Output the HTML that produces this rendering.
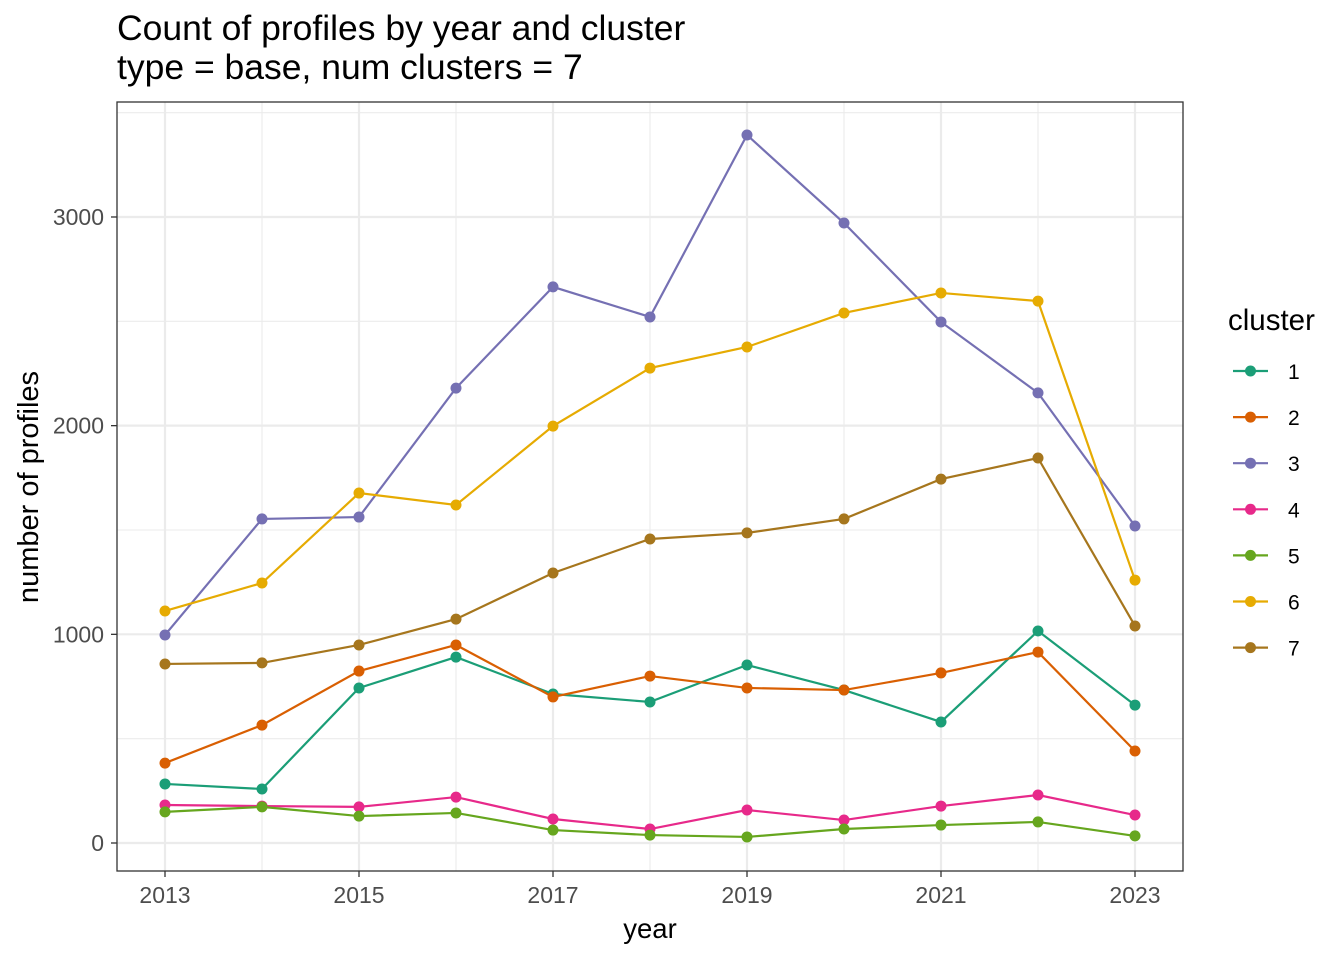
<!DOCTYPE html>
<html><head><meta charset="utf-8"><style>
body{margin:0;background:#fff;font-family:"Liberation Sans",sans-serif;}
</style></head><body>
<svg id="chart" width="1344" height="960" xmlns="http://www.w3.org/2000/svg">
<text x="117" y="40" font-size="35.5" fill="#000">Count of profiles by year and cluster</text>
<text x="117" y="79" font-size="35.5" fill="#000">type = base, num clusters = 7</text>
<g id="grid"></g>
<g id="series"></g>
<rect x="117" y="102" width="1066" height="769" fill="none" stroke="#333" stroke-width="1.3"/>
<g id="axes"></g>
<text x="650" y="938" font-size="27.5" text-anchor="middle" fill="#000">year</text>
<text transform="translate(38,487) rotate(-90)" font-size="29" text-anchor="middle" fill="#000">number of profiles</text>
<g id="legend"></g>
</svg>
<script>
const years=[2013,2014,2015,2016,2017,2018,2019,2020,2021,2022,2023];
const clusters=['1','2','3','4','5','6','7'];
const colors=['#1B9E77','#D95F02','#7570B3','#E7298A','#66A61E','#E6AB02','#A6761D'];
const c1=[283,259,743,891,714,676,853,733,580,1016,661];
const c2=[383,565,824,949,700,800,743,733,815,915,441];
const c3=[997,1553,1562,2180,2665,2521,3393,2971,2497,2157,1519];
const c4=[182,177,173,220,115,67,158,110,177,230,134];
const c5=[149,173,129,144,62,38,29,67,86,101,34];
const c6=[1112,1246,1677,1620,1998,2276,2377,2540,2636,2597,1260];
const c7=[858,863,949,1073,1294,1457,1486,1553,1744,1845,1040];
const series=[c1,c2,c3,c4,c5,c6,c7];
const yTicks=[0,1000,2000,3000];
const xTicks=[2013,2015,2017,2019,2021,2023];
const NS='http://www.w3.org/2000/svg';
const X=v=>165+(v-2013)*97;
const Y=v=>843-v*0.20867;
function mk(tag,attrs,parent){const e=document.createElementNS(NS,tag);for(const k in attrs)e.setAttribute(k,attrs[k]);parent.appendChild(e);return e;}
const grid=document.getElementById('grid');
mk('rect',{x:117,y:102,width:1066,height:769,fill:'#fff'},grid);
for(let v=-500;v<=3500;v+=500){const y=Y(v);if(y<102||y>871)continue;
 const l=mk('line',{x1:117,x2:1183,y1:y,y2:y,stroke:'#ebebeb','stroke-width':v%1000===0?2.2:1.1},grid);
 
 }
for(let yr=2013;yr<=2023;yr++){const x=X(yr);
 const l=mk('line',{x1:x,x2:x,y1:102,y2:871,stroke:'#ebebeb','stroke-width':yr%2===1?2.2:1.1},grid);
 
 }
const sg=document.getElementById('series');
series.forEach((s,i)=>{
 const pl=mk('polyline',{points:s.map((v,j)=>X(years[j])+','+Y(v)).join(' '),fill:'none',stroke:colors[i],'stroke-width':2.2},sg);
 
 
 s.forEach((v,j)=>{const c=mk('circle',{cx:X(years[j]),cy:Y(v),r:5.5,fill:colors[i]},sg);
  
  });
});
const ax=document.getElementById('axes');
yTicks.forEach(v=>{const y=Y(v);
 mk('line',{x1:111,x2:117,y1:y,y2:y,stroke:'#333','stroke-width':1.3},ax);
 const t=mk('text',{x:104,y:y+8,'font-size':23,'text-anchor':'end',fill:'#4d4d4d'},ax);t.textContent=v;
 
 });
xTicks.forEach(v=>{const x=X(v);
 mk('line',{x1:x,x2:x,y1:871,y2:877,stroke:'#333','stroke-width':1.3},ax);
 const t=mk('text',{x:x,y:903,'font-size':23,'text-anchor':'middle',fill:'#4d4d4d'},ax);t.textContent=v;
 
 });
const lg=document.getElementById('legend');
const lt=mk('text',{x:1228,y:330,'font-size':29.5,fill:'#000'},lg);lt.textContent='cluster';


clusters.forEach((c,i)=>{const y=371+i*46.1;
 const g=mk('g',{},lg);
 
 
 mk('line',{x1:1233,x2:1268,y1:y,y2:y,stroke:colors[i],'stroke-width':2.2},g);
 mk('circle',{cx:1250.5,cy:y,r:5.5,fill:colors[i]},g);
 const t=mk('text',{x:1288,y:y+8,'font-size':21,fill:'#000'},g);t.textContent=c;});
</script>
</body></html>
